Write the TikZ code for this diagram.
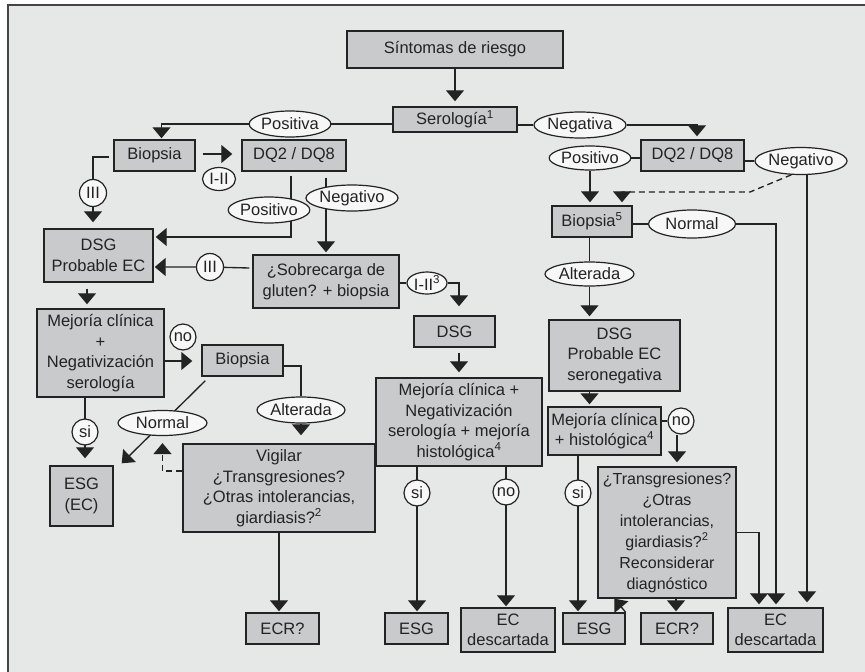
\documentclass[tikz,border=0pt]{standalone}
\usepackage{fontspec}
\setmainfont{Liberation Sans}
\usetikzlibrary{shapes.geometric,arrows.meta,calc}
\pgfdeclarelayer{bgl}
\pgfdeclarelayer{edg}
\pgfsetlayers{bgl,edg,main}
\definecolor{bgc}{HTML}{E6E7E7}
\definecolor{boxc}{HTML}{C9CACB}
\definecolor{linec}{HTML}{232323}
\definecolor{ellc}{HTML}{F7F7F7}
\begin{document}
\begin{tikzpicture}[x=1pt,y=-1pt,
  every node/.style={font=\fontsize{16.5}{20.5}\selectfont, text=linec},
  bx/.style={rectangle,draw=linec,fill=boxc,line width=1.4pt,inner sep=0pt,align=center},
  el/.style={ellipse,draw=linec,fill=ellc,line width=1.2pt,inner sep=0pt},
  ci/.style={circle,draw=linec,fill=ellc,line width=1.2pt,inner sep=0pt,minimum size=27pt},
  arr/.style={-{Triangle[width=18pt,length=11pt]},line width=1.35pt,draw=linec},
  ln/.style={line width=1.35pt,draw=linec},
  dsh/.style={dash pattern=on 6pt off 4pt}]
\useasboundingbox (0,0) rectangle (865,672);
\begin{pgfonlayer}{bgl}
  \fill[white] (0,0) rectangle (865,672);
  \fill[bgc] (8,5) rectangle (865,672);
  \draw[linec!85,line width=1.6pt] (8,672) -- (8,5) -- (865,5);
\end{pgfonlayer}

% boxes
\node[bx,minimum width=216pt,minimum height=37pt] (sint) at (455,49.5) {Síntomas de riesgo};
\node[bx,minimum width=124pt,minimum height=25pt] (sero) at (455,119.5) {Serología\textsuperscript{1}};
\node[bx,minimum width=81pt,minimum height=31pt] (bio1) at (154.5,155.5) {Biopsia};
\node[bx,minimum width=104pt,minimum height=31pt] (dqL) at (294,155.5) {DQ2 / DQ8};
\node[bx,minimum width=109pt,minimum height=53pt] (dsgL) at (98.5,255.5) {DSG\\Probable EC};
\node[bx,minimum width=146pt,minimum height=53pt] (sobre) at (326,281.5) {¿Sobrecarga de\\gluten? + biopsia};
\node[bx,minimum width=81pt,minimum height=31pt] (dsgM) at (454.5,331.5) {DSG};
\node[bx,minimum width=127pt,minimum height=88pt] (mejL) at (100.5,353) {Mejoría clínica\\+\\Negativización\\serología};
\node[bx,minimum width=81pt,minimum height=31pt] (bio2) at (242.5,360.5) {Biopsia};
\node[bx,minimum width=192pt,minimum height=88pt] (vig) at (279,488) {Vigilar\\¿Transgresiones?\\¿Otras intolerancias,\\giardiasis?\textsuperscript{2}};
\node[bx,minimum width=63pt,minimum height=60pt] (esgL) at (81.5,496) {ESG\\(EC)};
\node[bx,minimum width=73pt,minimum height=31pt] (ecrL) at (282.5,628.5) {ECR?};
\node[bx,minimum width=166pt,minimum height=88pt] (mejM) at (459,422) {Mejoría clínica +\\Negativización\\serología + mejoría\\histológica\textsuperscript{4}};
\node[bx,minimum width=63pt,minimum height=31pt] (esgM) at (416.5,628.5) {ESG};
\node[bx,minimum width=94pt,minimum height=44pt] (ecdM) at (508,630) {EC\\descartada};
\node[bx,minimum width=103pt,minimum height=31pt] (dqR) at (692.5,155.5) {DQ2 / DQ8};
\node[bx,minimum width=80pt,minimum height=31pt] (bio5) at (592,221.5) {Biopsia\textsuperscript{5}};
\node[bx,minimum width=131pt,minimum height=71pt] (dsgR) at (614.5,355.5) {DSG\\Probable EC\\seronegativa};
\node[bx,minimum width=113pt,minimum height=48pt] (mejR) at (604.5,431) {Mejoría clínica\\+ histológica\textsuperscript{4}};
\node[bx,minimum width=138pt,minimum height=131pt,font=\fontsize{16}{21}\selectfont] (trans) at (667,532.5) {¿Transgresiones?\\¿Otras\\intolerancias,\\giardiasis?\textsuperscript{2}\\Reconsiderar\\diagnóstico};
\node[bx,minimum width=62pt,minimum height=31pt] (esgR) at (594,628.5) {ESG};
\node[bx,minimum width=72pt,minimum height=31pt] (ecrR) at (677,628.5) {ECR?};
\node[bx,minimum width=95pt,minimum height=44pt] (ecdR) at (775.5,630) {EC\\descartada};

% labels
\node[el,minimum width=81pt,minimum height=26pt] (posa) at (290,124) {Positiva};
\node[el,minimum width=33pt,minimum height=23pt] (i2a) at (219,179) {I-II};
\node[ci] (IIIa) at (93,193) {III};
\node[el,minimum width=81pt,minimum height=26pt] (posoL) at (269,210) {Positivo};
\node[el,minimum width=89pt,minimum height=26pt] (negoL) at (352,198) {Negativo};
\node[ci] (IIIb) at (210,267) {III};
\node[el,minimum width=40pt,minimum height=22pt] (i2b) at (427,283) {I-II\textsuperscript{3}};
\node[ci,minimum size=26pt] (no1) at (183,337) {no};
\node[el,minimum width=88pt,minimum height=26pt] (alt1) at (301,410) {Alterada};
\node[el,minimum width=89pt,minimum height=25pt] (norm1) at (162.5,423) {Normal};
\node[ci,minimum size=26pt] (si1) at (85,432) {si};
\node[ci,minimum size=26pt] (si2) at (417,493) {si};
\node[ci,minimum size=26pt] (no2) at (506,492) {no};
\node[el,minimum width=88pt,minimum height=26pt] (nega) at (580,125) {Negativa};
\node[el,minimum width=81pt,minimum height=24pt] (posoR) at (590,158) {Positivo};
\node[el,minimum width=84pt,minimum height=27pt] (negoR) at (801,161) {Negativo};
\node[el,minimum width=87pt,minimum height=28pt] (normR) at (692,224) {Normal};
\node[el,minimum width=89pt,minimum height=24pt] (altR) at (589.5,274) {Alterada};
\node[ci,minimum size=26pt] (no3) at (681,421) {no};
\node[ci,minimum size=26pt] (si3) at (578,493) {si};

\coordinate (f1) at (291,237);
\coordinate (d1) at (750,192);

\begin{pgfonlayer}{edg}
\draw[arr,shorten >=5pt] (sint.south) -- (sero.north);
\draw[arr] (sero.west |- posa) -- (posa) -| ($(bio1.north)+(7,-1)$);
\draw[arr] (sero.east |- nega) -- (nega) -| ($(dqR.north)+(4.5,-3)$);
\draw[arr] ($(bio1.east)+(7,-1.5)$) -- ($(dqL.west)+(-9,-1.5)$);
\draw[arr] ($(bio1.west)+(-4,1.5)$) -| (IIIa) -- ($(IIIa |- dsgL.north)+(0,-6)$);
\draw[arr] ($(dqL.south)+(-3,4)$) -- (f1) -- ($(f1 -| dsgL.east)+(2,0)$);
\draw[arr] ($(dqL.south)+(32,6)$) -- ($(sobre.north)+(0,-2)$);
\draw[arr] ($(sobre.west)+(-3,-13.5)$) -- (IIIb) -- ($(IIIb -| dsgL.east)+(1,0)$);
\draw[arr] (sobre.east |- i2b) -- (i2b) -| ($(dsgM.north)+(4.5,-9)$);
\draw[arr] ($(dsgM.south)+(4.5,5)$) -- ($(mejM.north)+(0,-5)$);
\draw[arr] ($(dsgL.south)+(-11.5,6)$) -- ($(mejL.north)+(-13.5,-4)$);
\draw[arr] ($(mejL.east)+(0,8)$) -- ($(bio2.west)+(-9,0.5)$);
\draw[arr] ($(bio2.east)+(0,5.5)$) -| (alt1) -- ($(vig.north -| alt1)+(0,-8)$);
\draw[arr] ($(bio2.south west)+(4,4)$) -- ($(esgL.north east)+(8,-2)$);
\draw[arr,dsh] ($(vig.west)+(0,-17)$) -| ($(norm1.south)+(0,7)$);
\draw[arr] ($(mejL.south)+(-15.5,0)$) -- ($(esgL.north)+(3.5,-7)$);
\draw[arr] (vig.south) -- ($(ecrL.north)+(-3.5,-1)$);
\draw[arr] ($(mejM.south)+(-42,0)$) -- ($(esgM.north)+(0.5,-1)$);
\draw[arr] ($(mejM.south)+(47,0)$) -- ($(ecdM.north)+(-2,-1)$);
\draw[ln] (dqR.west |- posoR) -- (posoR);
\draw[arr] (posoR) -- ($(posoR |- bio5.north)+(0,-3)$);
\draw[ln] (dqR.east |- negoR) -- (negoR);
\draw[arr] ($(negoR.south)+(6,0)$) -- ($(ecdR.north)+(31.5,-5)$);
\draw[arr,dsh] (negoR.235) -- (d1) -| ($(bio5.north)+(30,-3)$);
\draw[arr] (bio5.east |- normR) -- (normR) -| ($(ecdR.north)+(0.5,-3)$);
\draw[arr] (bio5.south -| altR) -- (altR) -- ($(altR |- dsgR.north)+(0,-3)$);
\draw[arr] (dsgR.south -| altR) -- ($(altR |- mejR.north)+(0,-2)$);
\draw[ln] (mejR.east |- no3) -- (no3);
\draw[arr] ($(no3.south)+(-4,0)$) -- ($(trans.north)+(10,-4)$);
\draw[arr] ($(mejR.south)+(-26.5,0)$) -- ($(esgR.north)+(-16,-1)$);
\draw[arr] ($(trans.south)+(9,0)$) -- ($(ecrR.north)+(-1,-1)$);
\draw[arr] (trans.east) -| ($(ecdR.north)+(-16.5,-3)$);
\draw[arr] (esgR.north east) -- ($(trans.south west)+(17,0)$);
\end{pgfonlayer}
\end{tikzpicture}
\end{document}
